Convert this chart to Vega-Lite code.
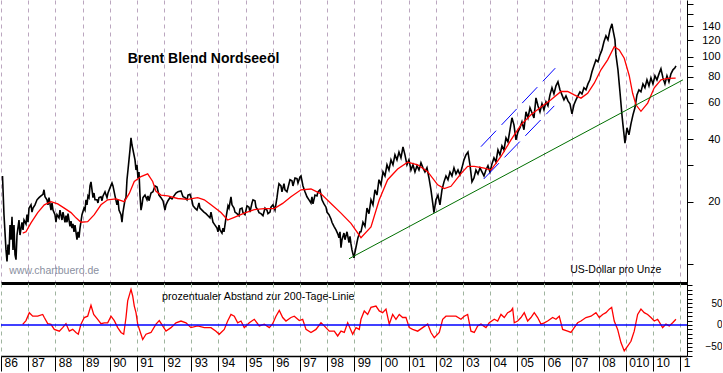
{
"$schema": "https://vega.github.io/schema/vega-lite/v6.json",
"padding": 0,
"background": "white",
"spacing": 0,
"config": {"view": {"stroke": null}, "font": "Liberation Sans", "axis": {"labelFont": "Liberation Sans"}, "text": {"font": "Liberation Sans"}},
"datasets": {
"price": [
{"t":1986.055,"usd":26.6},{"t":1986.110,"usd":17.3},{"t":1986.184,"usd":11.7},{"t":1986.221,"usd":10.3},{"t":1986.258,"usd":12.4},{"t":1986.294,"usd":11.1},{"t":1986.331,"usd":15.4},{"t":1986.368,"usd":13.1},{"t":1986.405,"usd":16.9},{"t":1986.442,"usd":11.7},{"t":1986.478,"usd":15.4},{"t":1986.515,"usd":11.1},{"t":1986.552,"usd":10.5},{"t":1986.589,"usd":13.8},{"t":1986.662,"usd":16.3},{"t":1986.699,"usd":13.8},{"t":1986.773,"usd":15.9},{"t":1986.810,"usd":14.6},{"t":1986.847,"usd":16.3},{"t":1986.920,"usd":15.6},{"t":1986.957,"usd":17.3},{"t":1986.994,"usd":15.9},
{"t":1987.031,"usd":18.6},{"t":1987.104,"usd":19.3},{"t":1987.141,"usd":17.8},{"t":1987.178,"usd":18.6},{"t":1987.251,"usd":19.3},{"t":1987.325,"usd":20.4},{"t":1987.399,"usd":20.9},{"t":1987.472,"usd":21.3},{"t":1987.546,"usd":21.7},{"t":1987.583,"usd":22.8},{"t":1987.619,"usd":21.1},{"t":1987.693,"usd":20.4},{"t":1987.730,"usd":19.3},{"t":1987.767,"usd":20.9},{"t":1987.840,"usd":18.2},{"t":1987.877,"usd":19.7},{"t":1987.914,"usd":18.2},{"t":1987.987,"usd":17.3},
{"t":1988.024,"usd":15.9},{"t":1988.061,"usd":17.3},{"t":1988.135,"usd":16.7},{"t":1988.171,"usd":18.2},{"t":1988.245,"usd":16.3},{"t":1988.282,"usd":17.8},{"t":1988.356,"usd":15.9},{"t":1988.392,"usd":17.1},{"t":1988.429,"usd":15.9},{"t":1988.466,"usd":17.5},{"t":1988.540,"usd":15.2},{"t":1988.576,"usd":16.1},{"t":1988.613,"usd":14.9},{"t":1988.650,"usd":15.6},{"t":1988.687,"usd":14.3},{"t":1988.724,"usd":15.4},{"t":1988.797,"usd":13.1},{"t":1988.834,"usd":14.3},{"t":1988.871,"usd":13.4},{"t":1988.908,"usd":14.9},{"t":1988.981,"usd":17.3},
{"t":1989.055,"usd":18.6},{"t":1989.092,"usd":18.2},{"t":1989.128,"usd":20.4},{"t":1989.165,"usd":19.3},{"t":1989.202,"usd":21.3},{"t":1989.239,"usd":20.9},{"t":1989.276,"usd":23.8},{"t":1989.312,"usd":24.9},{"t":1989.386,"usd":20.9},{"t":1989.423,"usd":22.0},{"t":1989.460,"usd":20.4},{"t":1989.533,"usd":20.4},{"t":1989.570,"usd":19.7},{"t":1989.607,"usd":20.9},{"t":1989.681,"usd":21.1},{"t":1989.717,"usd":20.2},{"t":1989.754,"usd":21.3},{"t":1989.828,"usd":22.3},{"t":1989.901,"usd":20.9},{"t":1989.938,"usd":22.0},
{"t":1990.012,"usd":23.3},{"t":1990.085,"usd":24.6},{"t":1990.122,"usd":23.8},{"t":1990.196,"usd":21.3},{"t":1990.269,"usd":19.3},{"t":1990.306,"usd":20.4},{"t":1990.343,"usd":18.2},{"t":1990.417,"usd":17.3},{"t":1990.453,"usd":15.9},{"t":1990.490,"usd":17.8},{"t":1990.564,"usd":20.4},{"t":1990.601,"usd":20.9},{"t":1990.637,"usd":25.5},{"t":1990.674,"usd":28.4},{"t":1990.711,"usd":31.8},{"t":1990.748,"usd":35.5},{"t":1990.785,"usd":40.6},{"t":1990.821,"usd":37.5},{"t":1990.858,"usd":35.5},{"t":1990.932,"usd":31.8},{"t":1990.969,"usd":28.4},
{"t":1991.005,"usd":30.1},{"t":1991.042,"usd":26.0},{"t":1991.079,"usd":27.8},{"t":1991.116,"usd":21.5},{"t":1991.153,"usd":18.2},{"t":1991.190,"usd":19.3},{"t":1991.226,"usd":20.9},{"t":1991.300,"usd":21.5},{"t":1991.374,"usd":20.4},{"t":1991.410,"usd":21.3},{"t":1991.447,"usd":20.2},{"t":1991.521,"usd":22.0},{"t":1991.594,"usd":22.3},{"t":1991.668,"usd":23.8},{"t":1991.742,"usd":23.5},{"t":1991.815,"usd":21.5},{"t":1991.889,"usd":20.9},{"t":1991.962,"usd":20.2},
{"t":1992.036,"usd":18.2},{"t":1992.073,"usd":19.3},{"t":1992.146,"usd":20.2},{"t":1992.220,"usd":20.9},{"t":1992.294,"usd":20.6},{"t":1992.367,"usd":21.3},{"t":1992.441,"usd":22.0},{"t":1992.514,"usd":22.3},{"t":1992.625,"usd":22.5},{"t":1992.699,"usd":21.1},{"t":1992.772,"usd":20.9},{"t":1992.846,"usd":20.4},{"t":1992.883,"usd":21.5},{"t":1992.956,"usd":21.7},
{"t":1993.030,"usd":20.2},{"t":1993.067,"usd":19.1},{"t":1993.140,"usd":18.6},{"t":1993.214,"usd":18.2},{"t":1993.287,"usd":19.7},{"t":1993.324,"usd":18.6},{"t":1993.398,"usd":18.2},{"t":1993.471,"usd":17.8},{"t":1993.545,"usd":17.5},{"t":1993.619,"usd":17.1},{"t":1993.692,"usd":16.7},{"t":1993.729,"usd":17.8},{"t":1993.803,"usd":15.9},{"t":1993.876,"usd":15.4},{"t":1993.950,"usd":14.9},{"t":1993.987,"usd":14.3},
{"t":1994.023,"usd":15.4},{"t":1994.060,"usd":14.6},{"t":1994.134,"usd":14.1},{"t":1994.171,"usd":14.9},{"t":1994.208,"usd":14.3},{"t":1994.281,"usd":16.7},{"t":1994.355,"usd":19.1},{"t":1994.392,"usd":18.6},{"t":1994.465,"usd":21.1},{"t":1994.502,"usd":19.3},{"t":1994.576,"usd":18.6},{"t":1994.612,"usd":17.8},{"t":1994.686,"usd":17.5},{"t":1994.760,"usd":17.1},{"t":1994.796,"usd":18.4},{"t":1994.870,"usd":18.6},{"t":1994.907,"usd":17.7},{"t":1994.980,"usd":17.3},
{"t":1995.054,"usd":19.1},{"t":1995.128,"usd":18.8},{"t":1995.164,"usd":17.8},{"t":1995.238,"usd":19.7},{"t":1995.275,"usd":20.4},{"t":1995.348,"usd":20.2},{"t":1995.385,"usd":18.8},{"t":1995.459,"usd":18.2},{"t":1995.496,"usd":17.7},{"t":1995.569,"usd":17.5},{"t":1995.643,"usd":17.1},{"t":1995.717,"usd":18.6},{"t":1995.790,"usd":18.2},{"t":1995.827,"usd":17.5},{"t":1995.901,"usd":17.8},{"t":1995.937,"usd":18.8},
{"t":1996.011,"usd":19.3},{"t":1996.085,"usd":18.2},{"t":1996.158,"usd":20.9},{"t":1996.195,"usd":22.8},{"t":1996.232,"usd":24.4},{"t":1996.305,"usd":23.8},{"t":1996.342,"usd":22.3},{"t":1996.416,"usd":24.4},{"t":1996.453,"usd":22.8},{"t":1996.526,"usd":22.3},{"t":1996.600,"usd":24.4},{"t":1996.637,"usd":25.5},{"t":1996.710,"usd":25.2},{"t":1996.747,"usd":23.8},{"t":1996.821,"usd":26.0},{"t":1996.894,"usd":25.8},{"t":1996.931,"usd":24.6},
{"t":1997.005,"usd":26.3},{"t":1997.042,"usd":26.6},{"t":1997.115,"usd":23.8},{"t":1997.189,"usd":22.3},{"t":1997.262,"usd":21.1},{"t":1997.336,"usd":20.4},{"t":1997.410,"usd":19.7},{"t":1997.446,"usd":21.1},{"t":1997.483,"usd":19.5},{"t":1997.557,"usd":21.5},{"t":1997.630,"usd":21.3},{"t":1997.667,"usd":22.3},{"t":1997.741,"usd":22.8},{"t":1997.814,"usd":20.4},{"t":1997.888,"usd":19.5},{"t":1997.962,"usd":18.8},{"t":1997.998,"usd":17.8},
{"t":1998.072,"usd":17.3},{"t":1998.146,"usd":16.5},{"t":1998.182,"usd":15.9},{"t":1998.256,"usd":15.2},{"t":1998.330,"usd":14.6},{"t":1998.403,"usd":13.9},{"t":1998.440,"usd":13.4},{"t":1998.477,"usd":14.3},{"t":1998.514,"usd":12.0},{"t":1998.551,"usd":13.1},{"t":1998.624,"usd":14.1},{"t":1998.661,"usd":13.1},{"t":1998.735,"usd":14.3},{"t":1998.808,"usd":12.7},{"t":1998.845,"usd":13.6},{"t":1998.882,"usd":12.5},{"t":1998.918,"usd":11.7},{"t":1998.992,"usd":10.7},
{"t":1999.029,"usd":11.4},{"t":1999.102,"usd":12.7},{"t":1999.139,"usd":13.4},{"t":1999.213,"usd":14.3},{"t":1999.250,"usd":14.3},{"t":1999.323,"usd":15.9},{"t":1999.397,"usd":15.2},{"t":1999.471,"usd":18.6},{"t":1999.544,"usd":17.5},{"t":1999.618,"usd":20.4},{"t":1999.691,"usd":19.3},{"t":1999.765,"usd":22.8},{"t":1999.839,"usd":21.5},{"t":1999.912,"usd":25.5},{"t":1999.986,"usd":24.1},
{"t":2000.060,"usd":27.8},{"t":2000.133,"usd":26.6},{"t":2000.207,"usd":30.1},{"t":2000.280,"usd":28.4},{"t":2000.354,"usd":31.8},{"t":2000.428,"usd":30.1},{"t":2000.501,"usd":33.6},{"t":2000.575,"usd":31.8},{"t":2000.648,"usd":34.7},{"t":2000.722,"usd":32.5},{"t":2000.796,"usd":36.7},{"t":2000.869,"usd":33.6},{"t":2000.943,"usd":30.1},
{"t":2001.016,"usd":31.8},{"t":2001.090,"usd":28.4},{"t":2001.164,"usd":30.1},{"t":2001.237,"usd":27.8},{"t":2001.311,"usd":29.8},{"t":2001.384,"usd":28.4},{"t":2001.458,"usd":30.8},{"t":2001.532,"usd":29.1},{"t":2001.605,"usd":27.8},{"t":2001.679,"usd":29.1},{"t":2001.753,"usd":26.0},{"t":2001.826,"usd":22.8},{"t":2001.900,"usd":19.3},{"t":2001.936,"usd":17.7},
{"t":2002.010,"usd":20.4},{"t":2002.084,"usd":21.5},{"t":2002.157,"usd":19.3},{"t":2002.231,"usd":22.8},{"t":2002.305,"usd":24.9},{"t":2002.378,"usd":26.6},{"t":2002.452,"usd":25.5},{"t":2002.525,"usd":27.8},{"t":2002.599,"usd":26.6},{"t":2002.673,"usd":29.1},{"t":2002.746,"usd":27.2},{"t":2002.820,"usd":28.4},{"t":2002.893,"usd":26.9},{"t":2002.967,"usd":29.1},
{"t":2003.041,"usd":31.8},{"t":2003.114,"usd":33.6},{"t":2003.188,"usd":34.7},{"t":2003.262,"usd":30.1},{"t":2003.335,"usd":24.9},{"t":2003.409,"usd":26.0},{"t":2003.482,"usd":28.4},{"t":2003.556,"usd":27.2},{"t":2003.630,"usd":29.1},{"t":2003.703,"usd":27.8},{"t":2003.777,"usd":26.6},{"t":2003.850,"usd":28.4},{"t":2003.924,"usd":29.8},{"t":2003.998,"usd":27.8},
{"t":2004.071,"usd":30.4},{"t":2004.145,"usd":32.5},{"t":2004.218,"usd":31.1},{"t":2004.292,"usd":35.5},{"t":2004.366,"usd":33.6},{"t":2004.439,"usd":37.1},{"t":2004.513,"usd":35.5},{"t":2004.587,"usd":40.6},{"t":2004.660,"usd":38.8},{"t":2004.734,"usd":44.4},{"t":2004.807,"usd":50.7},{"t":2004.881,"usd":46.9},{"t":2004.955,"usd":39.7},
{"t":2005.028,"usd":43.4},{"t":2005.102,"usd":45.4},{"t":2005.175,"usd":48.5},{"t":2005.249,"usd":44.4},{"t":2005.323,"usd":54.2},{"t":2005.396,"usd":50.7},{"t":2005.470,"usd":56.7},{"t":2005.543,"usd":53.6},{"t":2005.617,"usd":50.7},{"t":2005.691,"usd":63.3},{"t":2005.764,"usd":58.0},{"t":2005.838,"usd":54.2},{"t":2005.912,"usd":59.3},{"t":2005.985,"usd":55.4},
{"t":2006.059,"usd":60.6},{"t":2006.132,"usd":58.0},{"t":2006.206,"usd":65.4},{"t":2006.280,"usd":70.8},{"t":2006.353,"usd":66.1},{"t":2006.427,"usd":72.3},{"t":2006.500,"usd":75.6},{"t":2006.574,"usd":69.2},{"t":2006.648,"usd":65.4},{"t":2006.721,"usd":61.9},{"t":2006.795,"usd":64.7},{"t":2006.868,"usd":61.2},{"t":2006.942,"usd":59.3},
{"t":2007.016,"usd":53.0},{"t":2007.089,"usd":58.6},{"t":2007.163,"usd":61.9},{"t":2007.236,"usd":64.7},{"t":2007.310,"usd":67.7},{"t":2007.384,"usd":66.1},{"t":2007.457,"usd":70.8},{"t":2007.531,"usd":69.2},{"t":2007.605,"usd":73.9},{"t":2007.678,"usd":77.3},{"t":2007.752,"usd":84.5},{"t":2007.825,"usd":90.3},{"t":2007.899,"usd":96.5},{"t":2007.973,"usd":94.4},
{"t":2008.046,"usd":102.0},{"t":2008.120,"usd":107.8},{"t":2008.193,"usd":117.9},{"t":2008.267,"usd":126.0},{"t":2008.341,"usd":120.5},{"t":2008.414,"usd":134.7},{"t":2008.488,"usd":144.0},{"t":2008.525,"usd":134.7},{"t":2008.598,"usd":120.5},{"t":2008.635,"usd":102.0},{"t":2008.709,"usd":86.4},{"t":2008.782,"usd":67.7},{"t":2008.856,"usd":52.4},{"t":2008.893,"usd":46.9},{"t":2008.966,"usd":38.3},
{"t":2009.040,"usd":45.4},{"t":2009.113,"usd":42.0},{"t":2009.187,"usd":47.4},{"t":2009.261,"usd":52.4},{"t":2009.334,"usd":56.7},{"t":2009.408,"usd":65.4},{"t":2009.481,"usd":69.2},{"t":2009.555,"usd":67.7},{"t":2009.629,"usd":73.9},{"t":2009.702,"usd":70.8},{"t":2009.776,"usd":77.3},{"t":2009.850,"usd":72.3},{"t":2009.923,"usd":79.0},{"t":2009.997,"usd":73.9},
{"t":2010.070,"usd":80.8},{"t":2010.144,"usd":77.3},{"t":2010.218,"usd":82.6},{"t":2010.291,"usd":87.4},{"t":2010.365,"usd":79.0},{"t":2010.438,"usd":73.9},{"t":2010.512,"usd":80.8},{"t":2010.586,"usd":75.6},{"t":2010.659,"usd":82.6},{"t":2010.733,"usd":86.4},{"t":2010.807,"usd":88.3},{"t":2010.843,"usd":90.3}
],
"ma": [
{"t":1986.799,"usd":14.1},{"t":1986.920,"usd":14.3},{"t":1987.104,"usd":15.8},{"t":1987.351,"usd":17.7},{"t":1987.594,"usd":19.3},{"t":1987.840,"usd":20.0},{"t":1988.087,"usd":19.5},{"t":1988.330,"usd":18.6},{"t":1988.576,"usd":17.7},{"t":1988.760,"usd":16.7},{"t":1988.944,"usd":15.9},{"t":1989.191,"usd":16.0},{"t":1989.434,"usd":17.3},{"t":1989.681,"usd":19.3},{"t":1989.927,"usd":20.4},{"t":1990.233,"usd":20.6},{"t":1990.538,"usd":20.0},{"t":1990.722,"usd":21.9},{"t":1990.906,"usd":25.0},{"t":1991.153,"usd":26.4},{"t":1991.399,"usd":27.2},{"t":1991.583,"usd":25.0},{"t":1991.705,"usd":22.4},{"t":1991.889,"usd":21.5},{"t":1992.135,"usd":21.3},{"t":1992.503,"usd":20.7},{"t":1992.871,"usd":20.5},{"t":1993.240,"usd":20.9},{"t":1993.482,"usd":20.4},{"t":1993.729,"usd":19.3},{"t":1994.097,"usd":17.7},{"t":1994.343,"usd":16.3},{"t":1994.587,"usd":16.8},{"t":1994.955,"usd":17.6},{"t":1995.323,"usd":18.3},{"t":1995.691,"usd":18.5},{"t":1996.059,"usd":18.5},{"t":1996.368,"usd":19.6},{"t":1996.673,"usd":21.1},{"t":1997.042,"usd":22.8},{"t":1997.410,"usd":23.0},{"t":1997.778,"usd":21.8},{"t":1998.146,"usd":19.6},{"t":1998.514,"usd":17.6},{"t":1998.882,"usd":15.7},{"t":1999.250,"usd":13.4},{"t":1999.618,"usd":15.1},{"t":1999.923,"usd":20.4},{"t":2000.232,"usd":25.5},{"t":2000.600,"usd":28.7},{"t":2000.968,"usd":31.0},{"t":2001.337,"usd":30.1},{"t":2001.705,"usd":27.9},{"t":2002.073,"usd":24.1},{"t":2002.316,"usd":23.1},{"t":2002.562,"usd":23.7},{"t":2002.930,"usd":27.3},{"t":2003.176,"usd":29.6},{"t":2003.420,"usd":29.6},{"t":2003.788,"usd":29.0},{"t":2004.034,"usd":28.4},{"t":2004.403,"usd":33.0},{"t":2004.771,"usd":39.7},{"t":2005.139,"usd":46.9},{"t":2005.507,"usd":52.4},{"t":2005.875,"usd":57.2},{"t":2006.243,"usd":61.9},{"t":2006.611,"usd":67.9},{"t":2006.857,"usd":67.9},{"t":2007.100,"usd":65.4},{"t":2007.347,"usd":63.1},{"t":2007.593,"usd":66.6},{"t":2007.836,"usd":74.5},{"t":2008.083,"usd":86.4},{"t":2008.329,"usd":96.5},{"t":2008.572,"usd":111.8},{"t":2008.756,"usd":107.8},{"t":2008.940,"usd":98.3},{"t":2009.124,"usd":80.9},{"t":2009.249,"usd":66.6},{"t":2009.371,"usd":58.6},{"t":2009.555,"usd":54.5},{"t":2009.802,"usd":59.7},{"t":2010.045,"usd":70.8},{"t":2010.291,"usd":77.3},{"t":2010.537,"usd":78.5},{"t":2010.832,"usd":78.8}
],
"osc": [
{"t":1986.799,"pct":1.5},{"t":1986.920,"pct":10},{"t":1987.042,"pct":28},{"t":1987.167,"pct":20},{"t":1987.351,"pct":20},{"t":1987.535,"pct":24},{"t":1987.594,"pct":17},{"t":1987.719,"pct":3},{"t":1987.840,"pct":1.5},{"t":1987.962,"pct":-10},{"t":1988.146,"pct":-14},{"t":1988.271,"pct":-6},{"t":1988.392,"pct":3},{"t":1988.514,"pct":-14},{"t":1988.639,"pct":-10},{"t":1988.760,"pct":-17},{"t":1988.845,"pct":-21},{"t":1988.944,"pct":2},{"t":1989.066,"pct":17},{"t":1989.191,"pct":20},{"t":1989.312,"pct":45},{"t":1989.412,"pct":24},{"t":1989.559,"pct":13},{"t":1989.681,"pct":3},{"t":1989.802,"pct":5},{"t":1989.927,"pct":5},{"t":1990.049,"pct":20},{"t":1990.170,"pct":10},{"t":1990.295,"pct":-6},{"t":1990.417,"pct":-17},{"t":1990.516,"pct":-21},{"t":1990.601,"pct":17},{"t":1990.663,"pct":55},{"t":1990.785,"pct":81},{"t":1990.847,"pct":66},{"t":1990.906,"pct":43},{"t":1990.969,"pct":28},{"t":1991.031,"pct":2},{"t":1991.153,"pct":-21},{"t":1991.215,"pct":-33},{"t":1991.337,"pct":-21},{"t":1991.521,"pct":-17},{"t":1991.705,"pct":2},{"t":1991.826,"pct":10},{"t":1991.951,"pct":-2},{"t":1992.073,"pct":-14},{"t":1992.257,"pct":-6},{"t":1992.441,"pct":5},{"t":1992.625,"pct":9},{"t":1992.809,"pct":5},{"t":1992.993,"pct":-6},{"t":1993.239,"pct":-2},{"t":1993.482,"pct":-6},{"t":1993.729,"pct":-6},{"t":1993.913,"pct":-14},{"t":1994.034,"pct":-21},{"t":1994.218,"pct":-10},{"t":1994.343,"pct":9},{"t":1994.465,"pct":24},{"t":1994.587,"pct":20},{"t":1994.712,"pct":5},{"t":1994.833,"pct":9},{"t":1994.955,"pct":-6},{"t":1995.139,"pct":5},{"t":1995.323,"pct":13},{"t":1995.507,"pct":-2},{"t":1995.691,"pct":2},{"t":1995.875,"pct":-6},{"t":1996.000,"pct":3},{"t":1996.121,"pct":20},{"t":1996.243,"pct":33},{"t":1996.368,"pct":17},{"t":1996.489,"pct":9},{"t":1996.673,"pct":17},{"t":1996.795,"pct":20},{"t":1996.979,"pct":10},{"t":1997.104,"pct":13},{"t":1997.226,"pct":-10},{"t":1997.410,"pct":-17},{"t":1997.594,"pct":-10},{"t":1997.778,"pct":5},{"t":1997.899,"pct":-2},{"t":1998.083,"pct":-14},{"t":1998.267,"pct":-14},{"t":1998.392,"pct":-25},{"t":1998.514,"pct":-14},{"t":1998.635,"pct":-17},{"t":1998.760,"pct":5},{"t":1998.944,"pct":-21},{"t":1999.066,"pct":-6},{"t":1999.187,"pct":-10},{"t":1999.250,"pct":13},{"t":1999.371,"pct":32},{"t":1999.496,"pct":24},{"t":1999.618,"pct":40},{"t":1999.802,"pct":43},{"t":1999.923,"pct":32},{"t":2000.048,"pct":28},{"t":2000.170,"pct":36},{"t":2000.291,"pct":2},{"t":2000.416,"pct":24},{"t":2000.538,"pct":13},{"t":2000.659,"pct":24},{"t":2000.784,"pct":17},{"t":2000.906,"pct":17},{"t":2001.027,"pct":-6},{"t":2001.152,"pct":-10},{"t":2001.337,"pct":-14},{"t":2001.521,"pct":-6},{"t":2001.705,"pct":2},{"t":2001.826,"pct":-17},{"t":2001.948,"pct":-29},{"t":2002.132,"pct":-17},{"t":2002.257,"pct":13},{"t":2002.378,"pct":20},{"t":2002.562,"pct":20},{"t":2002.746,"pct":20},{"t":2002.930,"pct":13},{"t":2003.052,"pct":20},{"t":2003.176,"pct":24},{"t":2003.298,"pct":-14},{"t":2003.420,"pct":-17},{"t":2003.545,"pct":-2},{"t":2003.666,"pct":2},{"t":2003.850,"pct":-6},{"t":2003.972,"pct":5},{"t":2004.156,"pct":13},{"t":2004.281,"pct":9},{"t":2004.403,"pct":24},{"t":2004.524,"pct":17},{"t":2004.649,"pct":28},{"t":2004.771,"pct":32},{"t":2004.833,"pct":38},{"t":2004.892,"pct":5},{"t":2005.017,"pct":9},{"t":2005.139,"pct":17},{"t":2005.260,"pct":28},{"t":2005.385,"pct":9},{"t":2005.507,"pct":17},{"t":2005.628,"pct":28},{"t":2005.753,"pct":17},{"t":2005.875,"pct":2},{"t":2005.996,"pct":5},{"t":2006.121,"pct":9},{"t":2006.305,"pct":17},{"t":2006.427,"pct":13},{"t":2006.548,"pct":20},{"t":2006.673,"pct":-10},{"t":2006.857,"pct":-14},{"t":2006.979,"pct":-17},{"t":2007.100,"pct":-6},{"t":2007.225,"pct":5},{"t":2007.347,"pct":9},{"t":2007.531,"pct":17},{"t":2007.715,"pct":20},{"t":2007.899,"pct":28},{"t":2008.020,"pct":17},{"t":2008.145,"pct":24},{"t":2008.267,"pct":28},{"t":2008.388,"pct":36},{"t":2008.477,"pct":40},{"t":2008.572,"pct":9},{"t":2008.697,"pct":-10},{"t":2008.819,"pct":-40},{"t":2008.940,"pct":-59},{"t":2009.065,"pct":-48},{"t":2009.187,"pct":-37},{"t":2009.308,"pct":-14},{"t":2009.433,"pct":24},{"t":2009.555,"pct":36},{"t":2009.676,"pct":28},{"t":2009.801,"pct":24},{"t":2009.923,"pct":17},{"t":2010.045,"pct":9},{"t":2010.169,"pct":13},{"t":2010.353,"pct":-6},{"t":2010.475,"pct":2},{"t":2010.597,"pct":-2},{"t":2010.722,"pct":5},{"t":2010.843,"pct":13}
]
},
"vconcat": [
{
"width": 686,
"height": 283,
"encoding": {
"x": {"field": "t", "type": "quantitative", "scale": {"domain": [1986, 2011.25], "nice": false, "zero": false},
"axis": {"orient": "bottom", "values": [1986,1987,1988,1989,1990,1991,1992,1993,1994,1995,1996,1997,1998,1999,2000,2001,2002,2003,2004,2005,2006,2007,2008,2009,2010,2011], "labels": false, "ticks": false, "domain": true, "domainColor": "#000000", "domainWidth": 3, "grid": true, "gridColor": "#bba6bf", "gridDash": [4, 4], "gridWidth": 1, "title": null}},
"y": {"field": "usd", "type": "quantitative", "scale": {"type": "log", "domain": [8.1, 187.6], "nice": false, "zero": false},
"axis": {"orient": "right", "values": [10,20,30,40,50,60,70,80,90,100,120,140,160,180], "labelExpr": "indexof([20,40,60,80,100,120,140], datum.value) >= 0 ? format(datum.value, 'd') : ''", "labelFontSize": {"condition": {"test": "indexof([20,40,60,80,100,120,140], datum.value) < 0", "value": 0}, "value": 11}, "grid": false, "domain": true, "domainColor": "#000000", "tickColor": "#000000", "tickSize": 6, "labelAlign": "right", "labelPadding": 27, "labelColor": "#000000", "labelBaseline": "middle", "labelBound": false, "labelOverlap": false, "labelFlush": false, "title": null}}
},
"layer": [
{"data": {"name": "price"}, "mark": {"type": "line", "color": "#000000", "strokeWidth": 1.6, "clip": true}},
{"data": {"name": "ma"}, "mark": {"type": "line", "color": "#ff0000", "strokeWidth": 1.3, "clip": true}},
{"data": {"values": [{"t": 1998.808, "usd": 10.6}, {"t": 2011.101, "usd": 77.3}]}, "mark": {"type": "line", "color": "#006f00", "strokeWidth": 1, "clip": true}},
{"data": {"values": [{"line": "upper", "t": 2003.666, "usd": 36.8}, {"line": "upper", "t": 2006.401, "usd": 88.0}, {"line": "lower", "t": 2003.766, "usd": 25.7}, {"line": "lower", "t": 2006.364, "usd": 57.9}]}, "mark": {"type": "line", "color": "#0000ff", "strokeWidth": 1, "strokeDash": [22, 8], "clip": true}, "encoding": {"detail": {"field": "line"}}},
{"data": {"values": [{"t": 1993.453, "usd": 93.6, "label": "Brent Blend Nordseeöl"}]}, "mark": {"type": "text", "align": "center", "baseline": "alphabetic", "fontSize": 14, "fontWeight": "bold", "color": "#000000"}, "encoding": {"text": {"field": "label"}}},
{"data": {"values": [{"t": 1986.305, "usd": 8.93, "label": "www.chartbuero.de"}]}, "mark": {"type": "text", "align": "left", "baseline": "alphabetic", "fontSize": 10.5, "color": "#8a8fa0"}, "encoding": {"text": {"field": "label"}}},
{"data": {"values": [{"t": 2006.953, "usd": 9.03, "label": "US-Dollar pro Unze"}]}, "mark": {"type": "text", "align": "left", "baseline": "alphabetic", "fontSize": 10.5, "color": "#000000"}, "encoding": {"text": {"field": "label"}}}
]
},
{
"width": 686,
"height": 73,
"encoding": {
"x": {"field": "t", "type": "quantitative", "scale": {"domain": [1986, 2011.25], "nice": false, "zero": false},
"axis": {"orient": "bottom", "values": [1986,1987,1988,1989,1990,1991,1992,1993,1994,1995,1996,1997,1998,1999,2000,2001,2002,2003,2004,2005,2006,2007,2008,2009,2010,2011], "labelExpr": "datum.value == 2009 ? '010' : datum.value == 2011 ? '1' : format(datum.value % 100, '02d')", "ticks": true, "tickSize": 15, "tickColor": "#000000", "domain": true, "domainColor": "#000000", "domainWidth": 1.5, "labelAlign": "left", "labelBaseline": "top", "labelPadding": -14, "labelOffset": 3, "labelFontSize": 12, "labelColor": "#000000", "labelOverlap": false, "labelFlush": false, "labelBound": false, "grid": true, "gridColor": "#9fb49f", "gridDash": [4, 4], "gridWidth": 1, "title": null}},
"y": {"field": "pct", "type": "quantitative", "scale": {"domain": [-70.5, 95.5], "nice": false, "zero": false},
"axis": {"orient": "right", "values": [-70,-60,-50,-40,-30,-20,-10,0,10,20,30,40,50,60,70,80,90], "labelExpr": "datum.value % 50 == 0 ? format(datum.value, 'd') : ''", "labelFontSize": {"condition": {"test": "datum.value % 50 != 0", "value": 0}, "value": 10}, "grid": false, "domain": true, "domainColor": "#000000", "tickColor": "#000000", "tickSize": 5, "labelAlign": "right", "labelPadding": 30, "labelColor": "#000000", "labelBaseline": "middle", "labelBound": false, "labelOverlap": false, "labelFlush": false, "title": null}}
},
"layer": [
{"data": {"name": "osc"}, "mark": {"type": "line", "color": "#ff0000", "strokeWidth": 1.3, "clip": true}},
{"data": {"values": [{"pct": 0}]}, "mark": {"type": "rule", "color": "#0000ff", "strokeWidth": 1.5}, "encoding": {"x": null}},
{"data": {"values": [{"t": 1991.926, "pct": 57, "label": "prozentualer Abstand zur 200-Tage-Linie"}]}, "mark": {"type": "text", "align": "left", "baseline": "alphabetic", "fontSize": 10.7, "color": "#000000"}, "encoding": {"text": {"field": "label"}}}
]
}
]
}
